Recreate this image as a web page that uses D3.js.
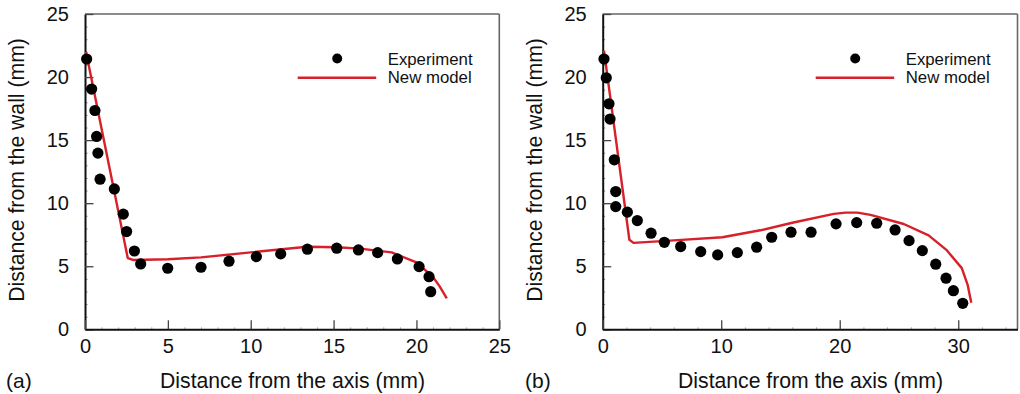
<!DOCTYPE html>
<html>
<head>
<meta charset="utf-8">
<script src="https://cdn.jsdelivr.net/npm/d3@7"></script>
<style>
  html, body { margin: 0; padding: 0; background: #fff; }
  svg { display: block; font-family: "Liberation Sans", Arial, sans-serif; }
</style>
</head>
<body>
<svg id="chart" width="1020" height="394"></svg>
<script>
// Panel (a): measured points and model curve
const expAX = [0.10, 0.40, 0.60, 0.70, 0.78, 0.91, 1.77, 2.31, 2.51, 2.98, 3.36, 4.99, 7.00, 8.69, 10.34, 11.81, 13.42, 15.19, 16.50, 17.66, 18.85, 20.16, 20.76, 20.86];
const expAY = [21.43, 19.05, 17.35, 15.29, 13.97, 11.90, 11.13, 9.13, 7.75, 6.21, 5.18, 4.84, 4.92, 5.40, 5.76, 5.98, 6.35, 6.43, 6.29, 6.08, 5.58, 4.97, 4.17, 2.98];
const modelAX = [0.06, 2.58, 2.90, 5.00, 7.00, 10.00, 13.40, 15.20, 16.60, 18.50, 20.00, 21.00, 21.40, 21.83];
const modelAY = [22.00, 5.65, 5.50, 5.55, 5.70, 6.10, 6.55, 6.50, 6.40, 6.10, 5.30, 4.15, 3.40, 2.45];

// Panel (b): measured points and model curve
const expBX = [0.11, 0.30, 0.53, 0.62, 0.98, 1.10, 1.10, 2.08, 2.92, 4.08, 5.20, 6.58, 8.27, 9.70, 11.36, 12.99, 14.26, 15.89, 17.58, 19.69, 21.43, 23.12, 24.67, 25.85, 26.97, 28.10, 28.97, 29.59, 30.38];
const expBY = [21.43, 19.94, 17.88, 16.67, 13.44, 10.92, 9.73, 9.29, 8.62, 7.62, 6.90, 6.56, 6.16, 5.90, 6.08, 6.51, 7.30, 7.70, 7.70, 8.36, 8.46, 8.41, 7.88, 7.03, 6.24, 5.16, 4.05, 3.06, 2.06];
const modelBX = [0.11, 2.25, 2.60, 6.00, 10.10, 13.30, 16.00, 19.50, 20.50, 21.50, 22.60, 25.40, 27.50, 29.00, 30.30, 30.80, 31.10];
const modelBY = [22.10, 7.10, 6.85, 7.05, 7.30, 7.85, 8.45, 9.15, 9.25, 9.25, 9.07, 8.35, 7.45, 6.30, 4.85, 3.50, 2.10];

// Axis ticks
const yTicks = [0, 5, 10, 15, 20, 25];
const xTicksA = [0, 5, 10, 15, 20, 25];
const xTicksB = [0, 10, 20, 30];
const yMinor = d3.range(0, 26, 1);
const xMinorA = d3.range(0, 26, 1);
const xMinorB = d3.range(0, 36, 2);

const seriesNames = ["Experiment", "New model"];
const xTitle = "Distance from the axis (mm)";
const yTitle = "Distance from the wall (mm)";
const RED = "#d7202a";

const svg = d3.select("#chart");

function drawPanel(cfg) {
  const x = d3.scaleLinear().domain(cfg.xDomain).range([cfg.left, cfg.right]);
  const y = d3.scaleLinear().domain([0, 25]).range([329.3, 14]);
  const g = svg.append("g");

  // frame top and right
  g.append("line").attr("x1", cfg.left).attr("x2", cfg.right).attr("y1", y(25)).attr("y2", y(25))
    .attr("stroke", "#666").attr("stroke-width", 1.6);
  g.append("line").attr("x1", cfg.right).attr("x2", cfg.right).attr("y1", y(25)).attr("y2", y(0))
    .attr("stroke", "#666").attr("stroke-width", 1.6);

  // minor ticks
  g.append("g").attr("transform", `translate(${cfg.left},0)`)
    .call(d3.axisLeft(y).tickValues(yMinor).tickSize(-2.5).tickFormat(""))
    .call(a => a.select(".domain").remove())
    .call(a => a.selectAll("line").attr("stroke", "#888"));
  g.append("g").attr("transform", `translate(0,${y(0)})`)
    .call(d3.axisBottom(x).tickValues(cfg.xMinor).tickSize(-2).tickFormat(""))
    .call(a => a.select(".domain").remove())
    .call(a => a.selectAll("line").attr("stroke", "#aaa"));

  // major axes
  const ya = g.append("g").attr("transform", `translate(${cfg.left},0)`)
    .call(d3.axisLeft(y).tickValues(yTicks).tickSize(-8.5).tickPadding(16).tickSizeOuter(0));
  const xa = g.append("g").attr("transform", `translate(0,${y(0)})`)
    .call(d3.axisBottom(x).tickValues(cfg.xTicks).tickSize(-9).tickPadding(10).tickSizeOuter(0));
  [ya, xa].forEach(a => {
    a.select(".domain").attr("stroke", "#111").attr("stroke-width", 2);
    a.selectAll(".tick line").attr("stroke", "#444").attr("stroke-width", 1.3);
    a.selectAll("text").attr("font-size", 20).attr("fill", "#111")
      .attr("font-family", "'Liberation Sans', Arial, sans-serif");
  });

  // model curve
  const line = d3.line().x(d => x(d[0])).y(d => y(d[1]));
  g.append("path").datum(d3.zip(cfg.mx, cfg.my)).attr("d", line)
    .attr("fill", "none").attr("stroke", RED).attr("stroke-width", 2.4)
    .attr("stroke-linejoin", "round");

  // experiment points
  g.append("g").selectAll("circle").data(d3.zip(cfg.ex, cfg.ey)).join("circle")
    .attr("cx", d => x(d[0])).attr("cy", d => y(d[1])).attr("r", 5.6).attr("fill", "#000");

  // legend
  const lg = g.append("g");
  lg.append("circle").attr("cx", cfg.legX + 39.5).attr("cy", 58.5).attr("r", 5).attr("fill", "#000");
  lg.append("line").attr("x1", cfg.legX).attr("x2", cfg.legX + 78.5).attr("y1", 77.7).attr("y2", 77.7)
    .attr("stroke", RED).attr("stroke-width", 2.4);
  lg.selectAll("text").data(seriesNames).join("text")
    .attr("x", cfg.legX + 90).attr("y", (d, i) => 64.5 + i * 18.5)
    .attr("font-size", 16.8).attr("fill", "#111").text(d => d);

  // axis titles
  g.append("text").attr("x", cfg.xTitleX).attr("y", 388).attr("text-anchor", "middle")
    .attr("font-size", 21.2).attr("fill", "#111").text(xTitle);
  g.append("text").attr("transform", `translate(${cfg.yTitleX},170) rotate(-90)`)
    .attr("text-anchor", "middle").attr("font-size", 21.2).attr("fill", "#111").text(yTitle);

  // panel tag
  g.append("text").attr("x", cfg.tagX).attr("y", 388).attr("font-size", 21).attr("fill", "#111").text(cfg.tag);
}

drawPanel({
  xDomain: [0, 25], left: 85, right: 499.3,
  xTicks: xTicksA, xMinor: xMinorA,
  ex: expAX, ey: expAY, mx: modelAX, my: modelAY,
  legX: 297.7, xTitleX: 292.5, yTitleX: 24, tagX: 6, tag: "(a)"
});
drawPanel({
  xDomain: [0, 35], left: 602.7, right: 1017.5,
  xTicks: xTicksB, xMinor: xMinorB,
  ex: expBX, ey: expBY, mx: modelBX, my: modelBY,
  legX: 815.7, xTitleX: 810.5, yTitleX: 542, tagX: 525, tag: "(b)"
});
</script>
</body>
</html>
